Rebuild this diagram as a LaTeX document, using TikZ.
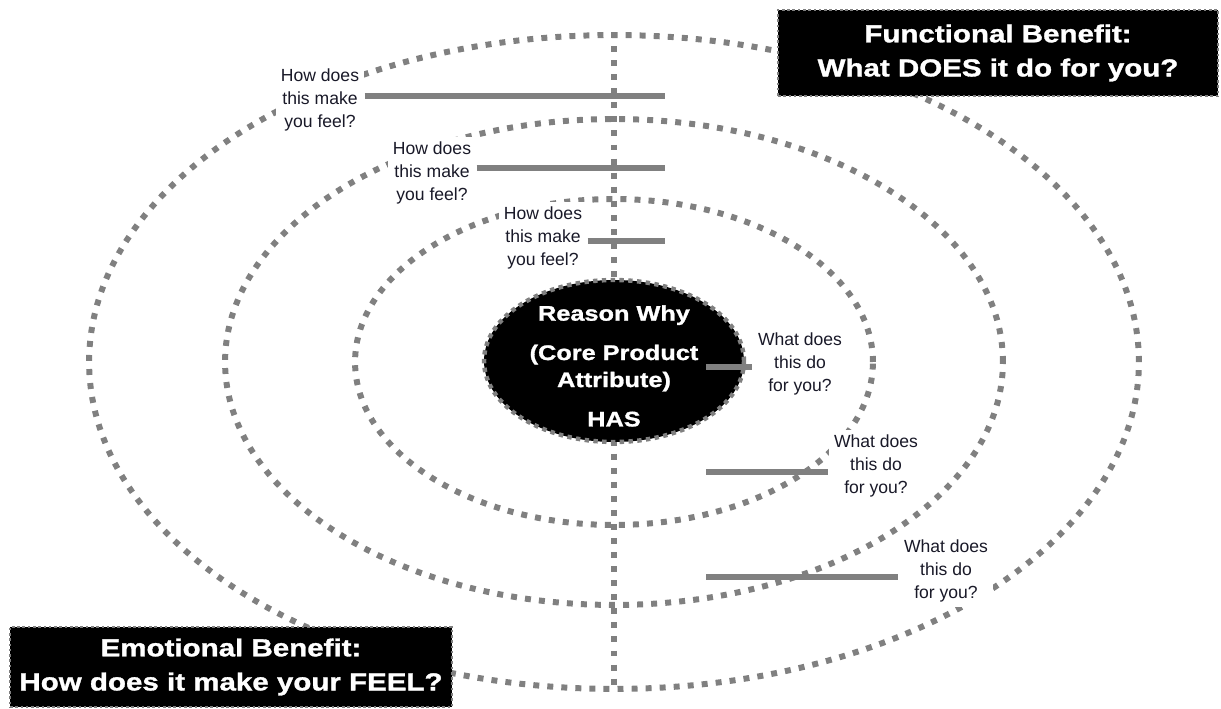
\documentclass[tikz,border=0pt]{standalone}
\usepackage{fontspec}
\setmainfont{Liberation Sans}
\newfontfamily\heavyfont[FakeStretch=1.2,BoldFeatures={FakeBold=1.3}]{Liberation Sans}
\usetikzlibrary{shapes.geometric}
\definecolor{ringgray}{RGB}{128,128,128}
\definecolor{labelink}{RGB}{25,25,40}

\begin{document}
\begin{tikzpicture}[x=0.02cm,y=-0.02cm,
  ring/.style={ellipse,draw=ringgray,line width=3.4pt,dash pattern=on 3.4pt off 4.6pt,inner sep=0pt},
  stem/.style={draw=ringgray,line width=3.4pt,dash pattern=on 3.4pt off 4.6pt},
  link/.style={draw=ringgray,line width=3.6pt},
  question/.style={fill=white,text=labelink,align=center,inner sep=3pt,font=\fontsize{10}{13}\selectfont},
  benefit/.style={fill=black,text=white,draw=ringgray,line width=1.5pt,dash pattern=on 1.5pt off 1.5pt,align=center,inner sep=0pt,font=\heavyfont\bfseries\fontsize{14}{19.4}\selectfont}]
  \useasboundingbox (0,0) rectangle (1221,709);
  \node[ring,minimum width=21cm,minimum height=13.08cm] (outer) at (614,362) {};
  \node[ring,minimum width=15.56cm,minimum height=9.72cm] (middle) at (614,362) {};
  \node[ring,minimum width=10.36cm,minimum height=6.52cm] (inner) at (614,362) {};
  \draw[stem] (outer.north) -- (outer.south);

  \node[question] (feel1) at (320,100) {How does\\this make\\you feel?};
  \node[question] (feel2) at (432,173) {How does\\this make\\you feel?};
  \node[question] (feel3) at (543,238) {How does\\this make\\you feel?};
  \node[question] (do1) at (800,364) {What does\\this do\\for you?};
  \node[question] (do2) at (876,466) {What does\\this do\\for you?};
  \node[question] (do3) at (946,571) {What does\\this do\\for you?};

  \node[ellipse,fill=black,draw=ringgray,line width=2.5pt,dash pattern=on 2.5pt off 2.5pt,minimum width=5.2cm,minimum height=3.24cm,inner sep=0pt] (core) at (614,361) {};
  \node[text=white,align=center,font=\heavyfont\bfseries\fontsize{12}{15.4}\selectfont] (coretext) at (614,366) {Reason Why\\[7pt](Core Product\\Attribute)\\[7pt]HAS};

  \coordinate (feel1end) at (665,96);
  \coordinate (feel2end) at (665,168);
  \coordinate (feel3end) at (665,241);
  \coordinate (do1start) at (706,367);
  \coordinate (do2start) at (706,472);
  \coordinate (do3start) at (706,577);
  \draw[link] (feel1.east |- feel1end) -- (feel1end);
  \draw[link] (feel2.east |- feel2end) -- (feel2end);
  \draw[link] (feel3.east |- feel3end) -- (feel3end);
  \draw[link] (do1start) -- (do1.west |- do1start);
  \draw[link] (do2start) -- (do2.west |- do2start);
  \draw[link] (do3start) -- (do3.west |- do3start);

  \node[benefit,minimum width=8.8cm,minimum height=1.72cm] (functional) at (998,53) {Functional Benefit:\\What DOES it do for you?};
  \node[benefit,minimum width=8.84cm,minimum height=1.6cm] (emotional) at (231,667) {Emotional Benefit:\\How does it make your FEEL?};
\end{tikzpicture}
\end{document}
